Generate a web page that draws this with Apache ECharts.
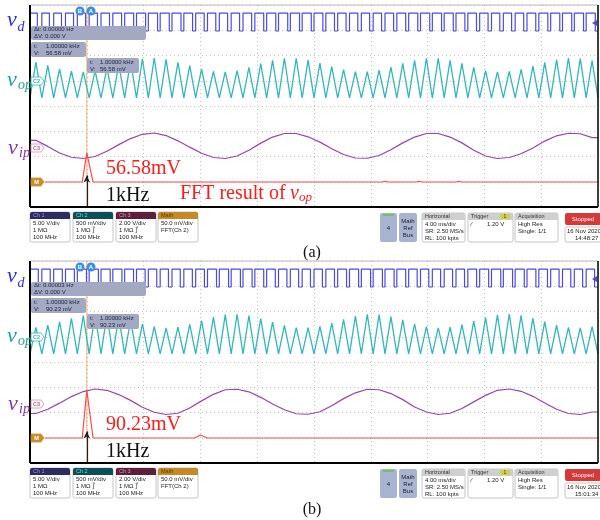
<!DOCTYPE html>
<html><head><meta charset="utf-8">
<script src="https://cdn.jsdelivr.net/npm/echarts@6/dist/echarts.min.js"></script>
<style>html,body{margin:0;padding:0;background:#fff}#c{width:600px;height:520px}</style>
</head><body><div id="c"></div>
<script>
// ---- data (screen divisions; time in ms, frequency in kHz) ----
const T_SPAN_MS = 40;
const F_SPAN_KHZ = 10;
const Y_DIVS = 8;
const VD_LEVELS = [6.97, 7.68];
const VD_DUTY_A = [0.62,0.64,0.66,0.68,0.70,0.70,0.72,0.74,0.76,0.77,0.78,0.77,0.76,0.74,0.72,0.70,0.70,0.71,0.73,0.75,0.77,0.78,0.78,0.77,0.75,0.73,0.71,0.70,0.70,0.71,0.73,0.75,0.77,0.78,0.78,0.77,0.75,0.73,0.71,0.70,0.70,0.72,0.74,0.76,0.77,0.78,0.78,0.77];
const VD_DUTY_B = [0.70,0.71,0.73,0.75,0.77,0.78,0.78,0.77,0.75,0.73,0.71,0.70,0.70,0.72,0.74,0.76,0.78,0.78,0.77,0.75,0.73,0.71,0.70,0.70,0.71,0.73,0.75,0.77,0.78,0.78,0.77,0.75,0.72,0.70,0.70,0.71,0.72,0.74,0.76,0.78,0.78,0.77,0.75,0.73,0.71,0.70,0.70,0.71];
const VOP_TROUGH = 4.32;
const VOP_PEAK_A = [5.74,5.61,5.47,5.38,5.35,5.39,5.51,5.65,5.78,5.87,5.90,5.85,5.73,5.60,5.46,5.37,5.35,5.40,5.53,5.68,5.81,5.89,5.89,5.82,5.70,5.56,5.44,5.36,5.36,5.42,5.54,5.69,5.81,5.89,5.89,5.81,5.69,5.53,5.40,5.35,5.37,5.45,5.58,5.73,5.84,5.90,5.88,5.80];
const VOP_PEAK_B = [5.37,5.46,5.59,5.73,5.84,5.90,5.87,5.78,5.65,5.51,5.40,5.35,5.38,5.49,5.64,5.78,5.88,5.89,5.84,5.72,5.58,5.45,5.36,5.36,5.41,5.54,5.69,5.82,5.89,5.88,5.80,5.67,5.51,5.40,5.35,5.38,5.48,5.62,5.76,5.87,5.90,5.85,5.74,5.60,5.46,5.37,5.35,5.40];
const VIP_A = [2.64,2.40,2.14,1.97,1.92,2.00,2.21,2.47,2.71,2.88,2.93,2.83,2.62,2.37,2.13,1.96,1.92,2.02,2.25,2.53,2.77,2.91,2.91,2.78,2.57,2.31,2.08,1.94,1.93,2.04,2.27,2.54,2.77,2.91,2.91,2.77,2.54,2.25,2.02,1.92,1.96,2.11,2.34,2.61,2.82,2.92,2.90,2.75];
const VIP_B = [1.96,2.13,2.37,2.63,2.83,2.93,2.88,2.71,2.48,2.21,2.01,1.92,1.97,2.18,2.46,2.72,2.90,2.92,2.82,2.60,2.34,2.11,1.95,1.93,2.03,2.27,2.55,2.78,2.92,2.90,2.75,2.51,2.22,2.02,1.92,1.97,2.16,2.42,2.68,2.88,2.93,2.84,2.64,2.38,2.13,1.96,1.92,2.02];
const FFT_A = [[0.26,0.99],[0.92,0.99],[1.0,2.14],[1.11,0.99],[6.2,0.99],[6.25,1.02],[6.3,0.99],[6.8,0.99],[6.85,1.02],[6.9,0.99],[7.5,0.99],[7.55,1.02],[7.6,0.99],[10,0.99]];
const FFT_B = [[0.26,0.99],[0.92,0.99],[1.0,2.89],[1.11,0.99],[2.9,0.99],[3.0,1.11],[3.12,0.99],[10,0.99]];
const CURSOR_T_MS = 4;
const PEAK_KHZ = 1;
const ARROW_TOP = 1.25;

// ---- builders ----
function vdData(duty){const P=T_SPAN_MS/duty.length,o=[];duty.forEach((d,i)=>{const t=i*P;o.push([t,VD_LEVELS[1]],[t+d*P,VD_LEVELS[1]],[t+d*P,VD_LEVELS[0]],[t+P,VD_LEVELS[0]]);});return o;}
function vopData(pk){const P=T_SPAN_MS/pk.length,o=[];pk.forEach((v,i)=>{o.push([i*P,VOP_TROUGH],[i*P+P/2,v]);});o.push([T_SPAN_MS,VOP_TROUGH]);return o;}
function vipData(v){const P=T_SPAN_MS/v.length,o=[[0,v[0]]];v.forEach((x,i)=>o.push([(i+0.5)*P,x]));o.push([T_SPAN_MS,v[v.length-1]]);return o;}

const GL=30,GW=568,GH=202,TOPS=[5,261];
const SERIF="'Liberation Serif','Times New Roman',serif";
const SANS="'Liberation Sans',Arial,sans-serif";

const grids=TOPS.map(t=>({left:GL,top:t,width:GW,height:GH,show:false}));
const xAxis=[],yAxis=[];
TOPS.forEach((t,g)=>{
  xAxis.push({type:'value',gridIndex:g,min:0,max:T_SPAN_MS,interval:4,axisLine:{show:false},axisTick:{show:false},axisLabel:{show:false},
    splitLine:{show:true,lineStyle:{color:'#c4c4c4',type:[1,3],width:1}}});
  xAxis.push({type:'value',gridIndex:g,min:0,max:F_SPAN_KHZ,show:false,splitLine:{show:false}});
  yAxis.push({type:'value',gridIndex:g,min:0,max:Y_DIVS,interval:1,axisLine:{show:false},axisTick:{show:false},axisLabel:{show:false},
    splitLine:{show:true,lineStyle:{color:'#c4c4c4',type:[1,3],width:1}}});
});

function panelSeries(g,duty,pk,vip,fft){
  return [
    {type:'line',xAxisIndex:2*g,yAxisIndex:g,data:[[CURSOR_T_MS,0],[CURSOR_T_MS,Y_DIVS]],symbol:'none',lineStyle:{color:'#f2b27a',width:1},z:1,silent:true},
    {type:'line',xAxisIndex:2*g,yAxisIndex:g,data:vdData(duty),symbol:'none',lineStyle:{color:'#4b4be0',width:1.2},z:3},
    {type:'line',xAxisIndex:2*g,yAxisIndex:g,data:vopData(pk),symbol:'none',lineStyle:{color:'#33b8b8',width:1.3},z:3},
    {type:'line',xAxisIndex:2*g,yAxisIndex:g,data:vipData(vip),symbol:'none',lineStyle:{color:'#9a42b2',width:1.2},z:3},
    {type:'line',xAxisIndex:2*g+1,yAxisIndex:g,data:fft,symbol:'none',lineStyle:{color:'#ff4a4a',width:1.2},z:4,
      markLine:{silent:true,symbol:['none','arrow'],symbolSize:[5,7],label:{show:false},lineStyle:{color:'#222',width:1.2,type:'solid'},
        data:[[{coord:[PEAK_KHZ,0]},{coord:[PEAK_KHZ,ARROW_TOP]}]]}}
  ];
}
const series=[...panelSeries(0,VD_DUTY_A,VOP_PEAK_A,VIP_A,FFT_A),...panelSeries(1,VD_DUTY_B,VOP_PEAK_B,VIP_B,FFT_B)];

// ---- graphics ----
function T(x,y,text,font,fill,align,extra){return Object.assign({type:'text',z:50,style:{x,y,text,font,fill,align:align||'left',textAlign:align||'left',verticalAlign:'middle',textVerticalAlign:'middle'}},extra||{});}
function R(x,y,w,h,fill,stroke,r){return {type:'rect',z:40,shape:{x,y,width:w,height:h,r:r||0},style:{fill,stroke:stroke||null,lineWidth:stroke?0.8:0}};}
function L(x1,y1,x2,y2,c,w){return {type:'line',z:45,shape:{x1,y1,x2,y2},style:{stroke:c,lineWidth:w}};}
function marker(x,y,label,stroke,fill,tc){return [{type:'polygon',z:46,shape:{points:[[x,y-4],[x+10,y-4],[x+13,y],[x+10,y+4],[x,y+4]]},style:{fill,stroke,lineWidth:0.8}},T(x+5.5,y,label,'bold 5.5px '+SANS,tc,'center',{z:47})];}

function panelGraphics(oy,val,dt,time,isA){
  const g=[];
  const top=oy+5,bot=oy+207;
  g.push(L(GL,top,598,top,'#bbbbbb',1));
  g.push(L(GL,top,GL,bot,'#000',2),L(598,top,598,bot,'#000',1.5),L(GL,bot,598,bot,'#000',2));
  const it='italic ';
  g.push(T(7,oy+20,'v',it+'22px '+SERIF,'#2b2bea'),T(17.5,oy+27.5,'d',it+'14px '+SERIF,'#2b2bea'));
  g.push(T(7,oy+80,'v',it+'22px '+SERIF,'#1aa590'),T(18,oy+85.5,'op',it+'14px '+SERIF,'#1aa590'));
  g.push(T(8,oy+148,'v',it+'22px '+SERIF,'#8d2fa6'),T(19,oy+153.5,'ip',it+'14px '+SERIF,'#8d2fa6'));
  g.push({type:'circle',z:46,shape:{cx:80,cy:oy+11,r:4.5},style:{fill:'#3d8fe0'}},T(80,oy+11,'B','bold 6px '+SANS,'#fff','center',{z:47}));
  g.push({type:'circle',z:46,shape:{cx:91,cy:oy+11,r:4.5},style:{fill:'#3d8fe0'}},T(91,oy+11,'A','bold 6px '+SANS,'#fff','center',{z:47}));
  g.push({type:'polygon',z:46,shape:{points:[[597,oy+20],[597,oy+26],[592,oy+23]]},style:{fill:'#4b4be0'}});
  const bf='#a3a9c2',tf='#1c1f3c',f6='6px '+SANS;
  g.push(R(31,oy+26,115,14,bf,null,2),T(34,oy+29.5,'\u0394t: '+dt+' Hz',f6,tf),T(34,oy+36.5,'\u0394V: 0.000 V',f6,tf));
  g.push(R(31,oy+42,55,15,bf,null,2),T(34,oy+46,'t:',f6,tf),T(46,oy+46,'1.00000 kHz',f6,tf),T(34,oy+53,'V:',f6,tf),T(46,oy+53,val+' mV',f6,tf));
  g.push(R(87,oy+58,52,15,bf,null,2),T(90,oy+62,'t:',f6,tf),T(100,oy+62,'1.00000 kHz',f6,tf),T(90,oy+69,'V:',f6,tf),T(100,oy+69,val+' mV',f6,tf));
  g.push(...marker(31,oy+81,'C2','#33b8b8','#ffffff','#33b8b8'));
  g.push(...marker(31,oy+148,'C3','#d58ab0','#ffffff','#c06090'));
  g.push(...marker(31,oy+182,'M','#c8902a','#c8902a','#ffffff'));
  g.push(T(106,oy+169,val+'mV','20px '+SERIF,'#ff1a1a'));
  g.push(T(106,oy+195.5,'1kHz','20px '+SERIF,'#111'));
  if(isA){
    g.push(T(180,oy+193.5,'FFT result of ','20px '+SERIF,'#ff1a1a'));
    g.push(T(290,oy+193.5,'v',it+'20px '+SERIF,'#ff1a1a'),T(299,oy+198,'op',it+'13px '+SERIF,'#ff1a1a'));
  }
  const y0=oy+212;
  const ch=[[30,'Ch 1','#2b2d5e','#8d9ce8',['5.00 V/div','1 M\u03A9','100 MHz']],
            [73,'Ch 2','#0c4f5a','#74d6de',['500 mV/div','1 M\u03A9 \u2A1B','100 MHz']],
            [116,'Ch 3','#5e1f3b','#e28eae',['2.00 V/div','1 M\u03A9 \u2A1B','100 MHz']],
            [158,'Math','#c48b25','#5a3800',['50.0 mV/div','FFT(Ch 2)']]];
  ch.forEach(([x,h,hc,htc,lines])=>{
    g.push(R(x,y0,40,30,'#fff','#b8b8b8',2),R(x,y0,40,7,hc,null,[2,2,0,0]),T(x+3,y0+3.5,h,'5.5px '+SANS,htc));
    lines.forEach((s,i)=>g.push(T(x+3,y0+11+i*7,s,f6,'#222')));
  });
  g.push(R(380,y0+1,17,29,'#a9b4d3',null,2),L(383,y0+3,394,y0+3,'#6cc04a',1.5),T(388.5,y0+16,'4',f6,'#222','center'));
  g.push(R(399,y0+1,18,29,'#a9b4d3',null,2),T(408,y0+9,'Math',f6,'#222','center'),T(408,y0+16,'Ref',f6,'#222','center'),T(408,y0+23,'Bus',f6,'#222','center'));
  const boxes=[[422,43,'Horizontal',['4.00 ms/div','SR: 2.50 MS/s','RL: 100 kpts']],[468,45,'Trigger',['\u2215         1.20 V']],[515,43,'Acquisition',['High Res','Single: 1/1']]];
  boxes.forEach(([x,w,h,lines])=>{
    g.push(R(x,y0+1,w,29,'#fff','#b8b8b8',2),R(x,y0+1,w,7,'#cfcfcf',null,[2,2,0,0]),T(x+3,y0+4.5,h,'5.5px '+SANS,'#333'));
    lines.forEach((s,i)=>g.push(T(x+3,y0+12+i*7,s,f6,'#222')));
  });
  g.push(R(500,y0+2,10,5,'#d3d33a',null,1),T(505,y0+4.5,'1','5px '+SANS,'#333','center'));
  g.push(R(565,y0+1,36,12,'#d43a3a',null,2),T(583,y0+7,'Stopped','6px '+SANS,'#fff','center'));
  g.push(R(565,y0+15,36,15,'#fff','#b8b8b8',2),T(567,y0+19,'16 Nov 2020',f6,'#222'),T(575,y0+26,time,f6,'#222'));
  return g;
}
const graphic=[...panelGraphics(0,'56.58','0.00000','14:48:27',true),...panelGraphics(256,'90.23','0.00003','15:01:34',false),
  T(312,253,'(a)','16px '+SERIF,'#111','center'),T(312,510,'(b)','16px '+SERIF,'#111','center')];

const chart=echarts.init(document.getElementById('c'),null,{renderer:'canvas'});
chart.setOption({animation:false,grid:grids,xAxis,yAxis,series,graphic});
</script></body></html>
